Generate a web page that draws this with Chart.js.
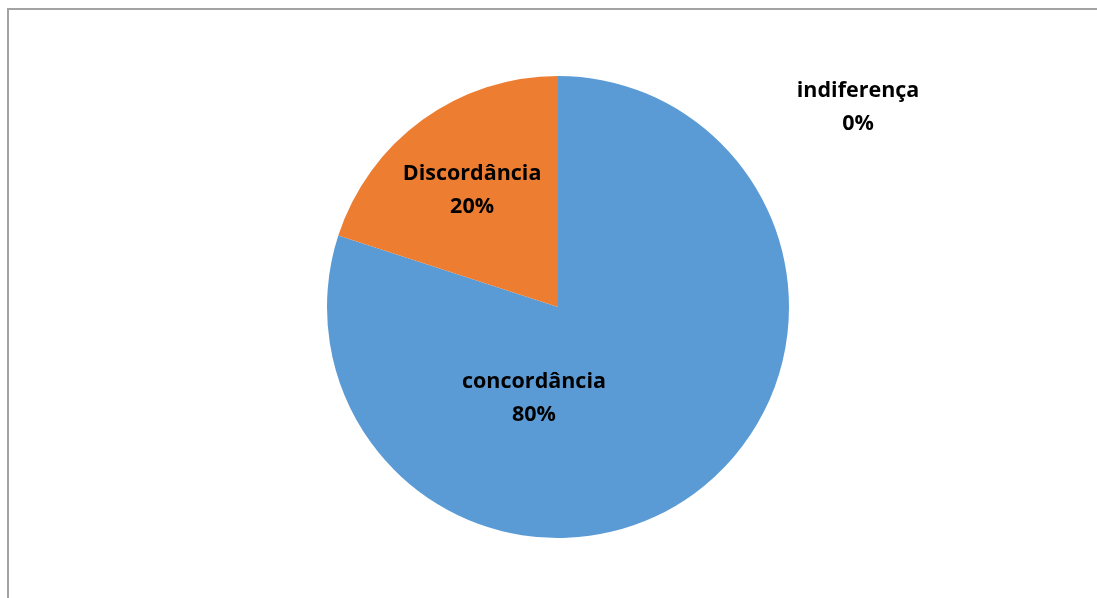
<!DOCTYPE html>
<html>
<head>
<meta charset="utf-8">
<script src="https://cdn.jsdelivr.net/npm/chart.js@4"></script>
<style>
  html, body { margin: 0; padding: 0; background: #fff; }
  #wrap { position: relative; width: 1097px; height: 598px; overflow: hidden; }
  #frame { position: absolute; left: 7px; top: 8px; width: 1200px; height: 700px;
           border-top: 2px solid #a3a3a3; border-left: 2px solid #a3a3a3; box-sizing: border-box; }
  canvas { position: absolute; left: 0; top: 0; }
</style>
</head>
<body>
<div id="wrap">
  <div id="frame"></div>
  <canvas id="pieChart" width="1097" height="598"></canvas>
</div>
<script>
// dados do gráfico
const categorias = ['concordância', 'Discordância', 'indiferença'];
const percentuais = [80, 20, 0];
const cores = ['#5B9BD5', '#ED7D31', '#A5A5A5'];

// posição dos rótulos (relativa ao centro, em frações do raio)
const posRotulos = [
    { dx: -0.104, dy: 0.394 },
    { dx: -0.372, dy: -0.506 },
    { dx: 1.299, dy: -0.866 }
];

const rotulosPlugin = {
    id: 'rotulos',
    afterDatasetsDraw(chart) {
        const ctx = chart.ctx;
        const meta = chart.getDatasetMeta(0);
        ctx.save();
        ctx.font = 'bold 21.5px "Open Sans", "DejaVu Sans", sans-serif';
        ctx.fillStyle = '#000';
        ctx.textAlign = 'center';
        ctx.textBaseline = 'middle';
        meta.data.forEach((arc, i) => {
            const r = arc.outerRadius;
            const x = arc.x + posRotulos[i].dx * r;
            const y = arc.y + posRotulos[i].dy * r;
            ctx.fillText(categorias[i], x, y - 16);
            ctx.fillText(percentuais[i] + '%', x, y + 17);
        });
        ctx.restore();
    }
};

const ctx = document.getElementById('pieChart');
new Chart(ctx, {
    type: 'pie',
    data: {
        labels: categorias,
        datasets: [{
            data: percentuais,
            backgroundColor: cores,
            borderWidth: 0
        }]
    },
    options: {
        responsive: false,
        animation: false,
        layout: {
            padding: { top: 76, bottom: 60, left: 327, right: 308 }
        },
        plugins: {
            legend: { display: false },
            tooltip: { enabled: false }
        }
    },
    plugins: [rotulosPlugin]
});
</script>
</body>
</html>
